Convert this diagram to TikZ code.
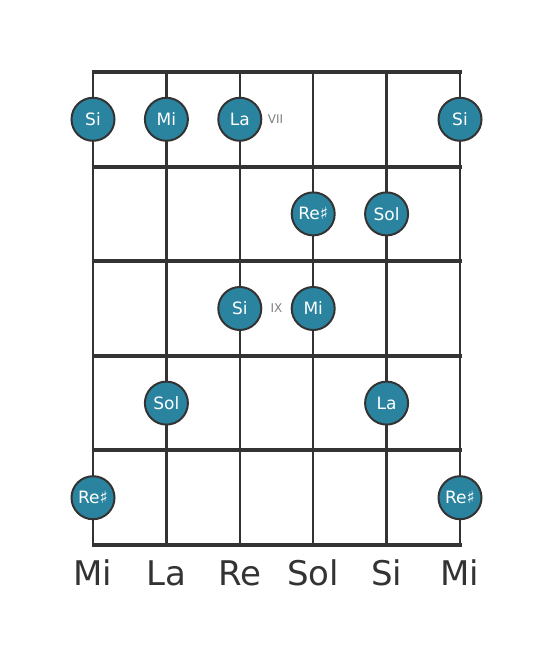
\documentclass[tikz,border=0pt]{standalone}
\usepackage{fontspec}
\setmainfont{DejaVu Sans}
\usetikzlibrary{positioning}

\definecolor{dotblue}{HTML}{2A84A0}
\definecolor{boardgray}{HTML}{333333}

\tikzset{
  note/.style={circle, draw=boardgray, line width=2pt, fill=dotblue,
    minimum size=43pt, inner sep=0pt, text=white,
    font=\fontsize{17}{20}\selectfont},
  fretnum/.style={text=gray, font=\fontsize{12}{14}\selectfont},
  stringname/.style={text=boardgray, font=\fontsize{34}{40}\selectfont},
}

\begin{document}
\begin{tikzpicture}[x=1pt, y=-1pt]

  \useasboundingbox (0,0) rectangle (553,656);

  % strings
  \foreach \s in {93,166.4,239.8,313.2,386.6,460}
    \draw [boardgray, line width=2.5pt] (\s,72) -- (\s,545);

  % frets
  \foreach \f in {72,166.6,261.2,355.8,450.4,545}
    \draw [boardgray, line width=4pt] (91.5,\f) -- (461.5,\f);

  % fret 7
  \node (A) [note] at (93,119.3) {Si};
  \node (B) [note] at (166.4,119.3) {Mi};
  \node (C) [note] at (239.8,119.3) {La};
  \node (D) [note] at (460,119.3) {Si};
  \node (VII) [fretnum, right=2pt of C] {VII};

  % fret 8
  \node (A1) [note] at (313.2,213.9) {Re♯};
  \node (B1) [note] at (386.6,213.9) {Sol};

  % fret 9
  \node (A2) [note] at (239.8,308.5) {Si};
  \node (B2) [note] at (313.2,308.5) {Mi};
  \node (IX) [fretnum] at (276.5,308.5) {IX};

  % fret 10
  \node (A3) [note] at (166.4,403.1) {Sol};
  \node (B3) [note] at (386.6,403.1) {La};

  % fret 11
  \node (A4) [note] at (93,497.7) {Re♯};
  \node (B4) [note] at (460,497.7) {Re♯};

  % open strings
  \node (S1) [stringname] at (93,573) {Mi};
  \node (S2) [stringname] at (166.4,573) {La};
  \node (S3) [stringname] at (239.8,573) {Re};
  \node (S4) [stringname] at (313.2,573) {Sol};
  \node (S5) [stringname] at (386.6,573) {Si};
  \node (S6) [stringname] at (460,573) {Mi};

\end{tikzpicture}
\end{document}
